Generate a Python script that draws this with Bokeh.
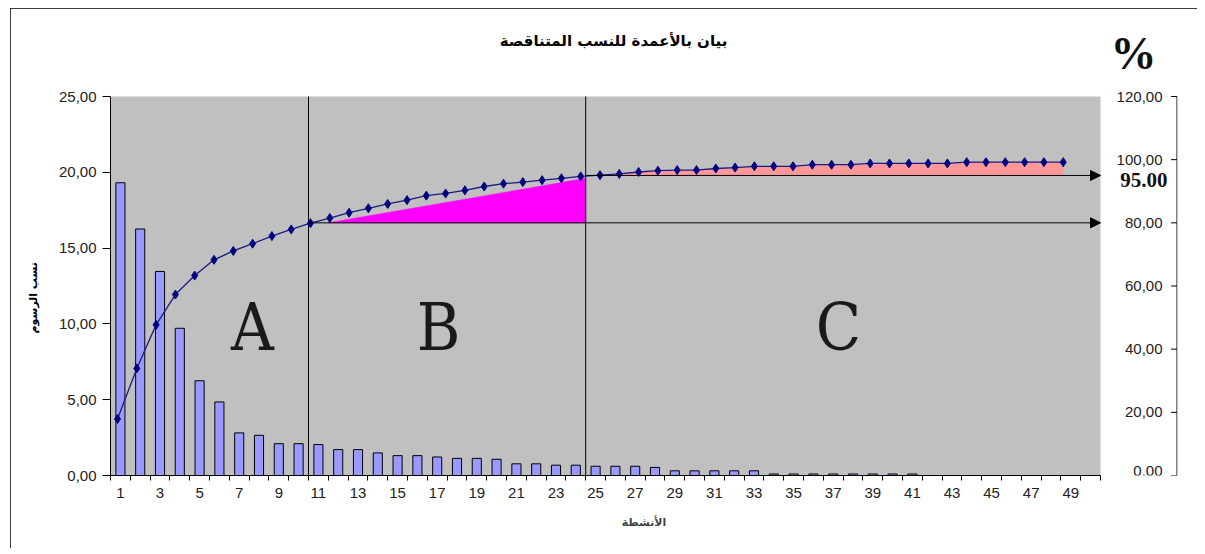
import numpy as np
from bokeh.plotting import figure
from bokeh.models import Range1d, FixedTicker, Arrow, NormalHead, BoxAnnotation, Title
from bokeh.core.properties import value
from bokeh.embed import file_html
from bokeh.resources import INLINE

# ---------------- data ----------------
categories = list(range(1, 51))
bar_values = [19.31, 16.26, 13.46, 9.71, 6.25, 4.85, 2.81, 2.65, 2.10, 2.10,
              2.04, 1.71, 1.71, 1.49, 1.31, 1.31, 1.22, 1.13, 1.13, 1.07,
              0.77, 0.77, 0.68, 0.68, 0.61, 0.61, 0.61, 0.53, 0.31, 0.31,
              0.31, 0.31, 0.31, 0.10, 0.10, 0.10, 0.10, 0.10, 0.10, 0.10,
              0.10, 0.0, 0.0, 0.0, 0.0, 0.0, 0.0, 0.0, 0.0, 0.0]
cum_values = [17.9, 33.9, 47.7, 57.3, 63.3, 68.3, 71.1, 73.4, 75.8, 77.9,
              79.9, 81.5, 83.2, 84.6, 86.0, 87.2, 88.6, 89.3, 90.3, 91.5,
              92.4, 92.9, 93.5, 94.1, 94.7, 95.1, 95.5, 96.1, 96.5, 96.7,
              96.7, 97.2, 97.5, 97.9, 97.9, 97.9, 98.4, 98.4, 98.4, 98.8,
              98.8, 98.8, 98.8, 98.8, 99.2, 99.2, 99.2, 99.2, 99.2, 99.2]
left_ticks = [0, 5, 10, 15, 20, 25]
left_tick_labels = ["0,00", "5,00", "10,00", "15,00", "20,00", "25,00"]
right_ticks = [0, 20, 40, 60, 80, 100, 120]
right_tick_labels = ["0,00", "20,00", "40,00", "60,00", "80,00", "100,00", "120,00"]
x_label_ticks = list(range(1, 50, 2))
x_tick_labels = [str(v) for v in x_label_ticks]
zone_letters = ["A", "B", "C"]
boundary_AB = 10.5
boundary_BC = 24.5
level_A = 80
level_B = 95
left_max = 25
right_max = 120
title_text = "بيان بالأعمدة للنسب المتناقصة"
x_title = "الأنشطة"
y_title = "نسب الرسوم"

# ---------------- layout (page pixel geometry) ----------------
OX, OY = 10, 8                 # page position of the figure
W, H = 1187, 540
AREA_L, AREA_R = 110, 1100     # gray plot area, page x
AREA_T, AREA_B = 96, 475       # gray plot area, page y
FRAME_R = 1177                 # right axis line, page x
FRAME_T = 10
ML = AREA_L - OX
MR = OX + W - FRAME_R
MT = FRAME_T - OY
MB = OY + H - AREA_B
FW = FRAME_R - AREA_L
CURVE_PX = 19.3
CURVE_FIRST_PX = 117

n_cat = len(categories)
x_start = 0.5
area_end = n_cat + 0.5
BAR_PX = (AREA_R - AREA_L) / n_cat
x_end = x_start + FW / BAR_PX
cx_start = 1 - (CURVE_FIRST_PX - AREA_L) / CURVE_PX
cx_end = cx_start + FW / CURVE_PX
LPX = (AREA_B - AREA_T) / left_max
RPX = (AREA_B - AREA_T) / right_max
y_end = left_max + (AREA_T - FRAME_T) / LPX
yp_end = right_max + (AREA_T - FRAME_T) / RPX


def fx(px):
    return x_start + (px - AREA_L) / BAR_PX


def fy(py):
    return (AREA_B - py) / LPX


def fyp(py):
    return (AREA_B - py) / RPX


p = figure(width=W, height=H, x_range=Range1d(x_start, x_end), y_range=Range1d(0, y_end),
           output_backend="svg", toolbar_location=None,
           min_border_left=ML, min_border_right=MR, min_border_top=MT, min_border_bottom=MB)
p.extra_x_ranges = {"curve": Range1d(cx_start, cx_end)}
p.extra_y_ranges = {"pct": Range1d(0, yp_end)}
p.xgrid.visible = False
p.ygrid.visible = False
p.background_fill_color = "white"
p.border_fill_color = "white"
p.outline_line_color = None
p.styles = {"margin-left": f"{OX}px", "margin-top": f"{OY}px",
            "outline": "1px solid black", "outline-offset": "-1px"}

# gray plot area
p.add_layout(BoxAnnotation(left=x_start, right=area_end, bottom=0, top=left_max,
                           fill_color="#C0C0C0", fill_alpha=1, line_alpha=0, level="underlay"))

# x axis
xa = p.xaxis[0]
xa.ticker = FixedTicker(ticks=x_label_ticks, minor_ticks=[c - 0.5 for c in categories] + [area_end])
xa.major_label_overrides = {t: s for t, s in zip(x_label_ticks, x_tick_labels)}
xa.bounds = (x_start, area_end)
xa.major_tick_out = 0
xa.major_tick_in = 0
xa.minor_tick_out = 5
xa.minor_tick_in = 0
xa.minor_tick_line_color = "black"
xa.axis_line_color = "black"
xa.major_label_standoff = 7
xa.major_label_text_font = "Liberation Sans"
xa.major_label_text_font_size = "15px"
xa.major_label_text_color = "#222222"
xa.axis_label = x_title
xa.axis_label_text_font = "DejaVu Sans"
xa.axis_label_text_font_style = "bold"
xa.axis_label_text_font_size = "11px"
xa.axis_label_standoff = 15

# left axis
ya = p.yaxis[0]
ya.ticker = FixedTicker(ticks=left_ticks, minor_ticks=[])
ya.major_label_overrides = {t: s for t, s in zip(left_ticks, left_tick_labels)}
ya.bounds = (0, left_max)
ya.major_tick_out = 8
ya.major_tick_in = 0
ya.minor_tick_out = 0
ya.axis_line_color = "black"
ya.major_label_standoff = 6
ya.major_label_text_font = "Liberation Sans"
ya.major_label_text_font_size = "15px"
ya.major_label_text_color = "#222222"

# left axis title, centred on the 0-25 part of the axis
p.add_layout(Title(text=y_title, align="left", offset=AREA_B - 333, vertical_align="middle",
                   text_font="DejaVu Sans", text_font_style="bold", text_font_size="11px",
                   standoff=30, text_color="black"), "left")

# right (percentage) axis: line, inward ticks and labels left of the line
xr = fx(FRAME_R - 0.5)
tick_len = 6 / BAR_PX
p.segment(x0=[xr], y0=[0], x1=[xr], y1=[right_max], y_range_name="pct", line_color="black", line_width=1)
p.segment(x0=[xr] * len(right_ticks), y0=right_ticks, x1=[xr - tick_len] * len(right_ticks), y1=right_ticks,
          y_range_name="pct", line_color="black", line_width=1)
p.text(x=[fx(1162)] * (len(right_ticks) - 1), y=right_ticks[1:], text=right_tick_labels[1:], y_range_name="pct",
       text_align="right", text_baseline="middle", text_font=value("Liberation Sans"),
       text_font_size="15px", text_color="#222222")
# the 0 label sits on the frame edge: keep it just above so it is not cut
p.text(x=[fx(1162)], y=[right_ticks[0]], text=right_tick_labels[:1], y_range_name="pct",
       text_align="right", text_baseline="bottom", text_font=value("Liberation Sans"),
       text_font_size="15px", text_color="#222222")

# zone fills
cx = np.array(categories, dtype=float)
cv = np.array(cum_values)
i_bc = int(boundary_BC - 0.5)      # last category of zone B
p.patch([boundary_AB + 1, boundary_BC, boundary_BC], [level_A, cum_values[i_bc - 1], level_A],
        y_range_name="pct", fill_color="#FF00FF", line_color="#FF00FF", line_width=0.5)
sel = cx >= i_bc + 1
p.varea(x=cx[sel], y1=np.full(sel.sum(), level_B), y2=np.maximum(cv[sel], level_B),
        x_range_name="curve", y_range_name="pct", fill_color="#FF9999")

# bars
p.vbar(x=categories, top=bar_values, width=0.46, fill_color="#9999FF", line_color="black", line_width=1)

# zone separators
p.segment(x0=[boundary_AB, boundary_BC], y0=[0, 0], x1=[boundary_AB, boundary_BC], y1=[left_max, left_max],
          line_color="black", line_width=1)

# arrows
for lvl, xs in ((level_A, boundary_AB), (level_B, boundary_BC)):
    p.add_layout(Arrow(end=NormalHead(size=10, fill_color="black", line_color="black"),
                       x_start=xs, y_start=lvl, x_end=area_end, y_end=lvl,
                       y_range_name="pct", line_color="black", line_width=1))

# cumulative curve
p.line(categories, cum_values, x_range_name="curve", y_range_name="pct", line_color="#1a1a80", line_width=1.3)
p.scatter(categories, cum_values, x_range_name="curve", y_range_name="pct", marker="diamond",
          size=9, fill_color="#000080", line_color="#000080")

# zone letters
p.text(x=[fx(252), fx(438), fx(838)], y=[fy(327)] * 3, text=zone_letters,
       text_font=value("DejaVu Serif Condensed, DejaVu Serif"), text_font_size="66px",
       text_align="center", text_baseline="middle", text_color="#1a1a1a")

# 95.00 marker text
p.text(x=[fx(1167)], y=[fyp(179)], text=["95.00"], y_range_name="pct", text_align="right",
       text_baseline="middle", text_font=value("Liberation Serif"), text_font_style="bold",
       text_font_size="21px", text_color="#111111")

# title and % sign
p.text(x=[fx(613)], y=[fy(40)], text=[title_text], text_align="center", text_baseline="middle",
       text_font=value("DejaVu Sans"), text_font_style="bold", text_font_size="15px", text_color="black")
p.text(x=[fx(1133)], y=[fy(53)], text=["%"], text_align="center", text_baseline="middle",
       text_font=value("Liberation Serif"), text_font_style="bold", text_font_size="46px",
       text_color="#111111")

open("out.html", "w").write(file_html(p, INLINE))
